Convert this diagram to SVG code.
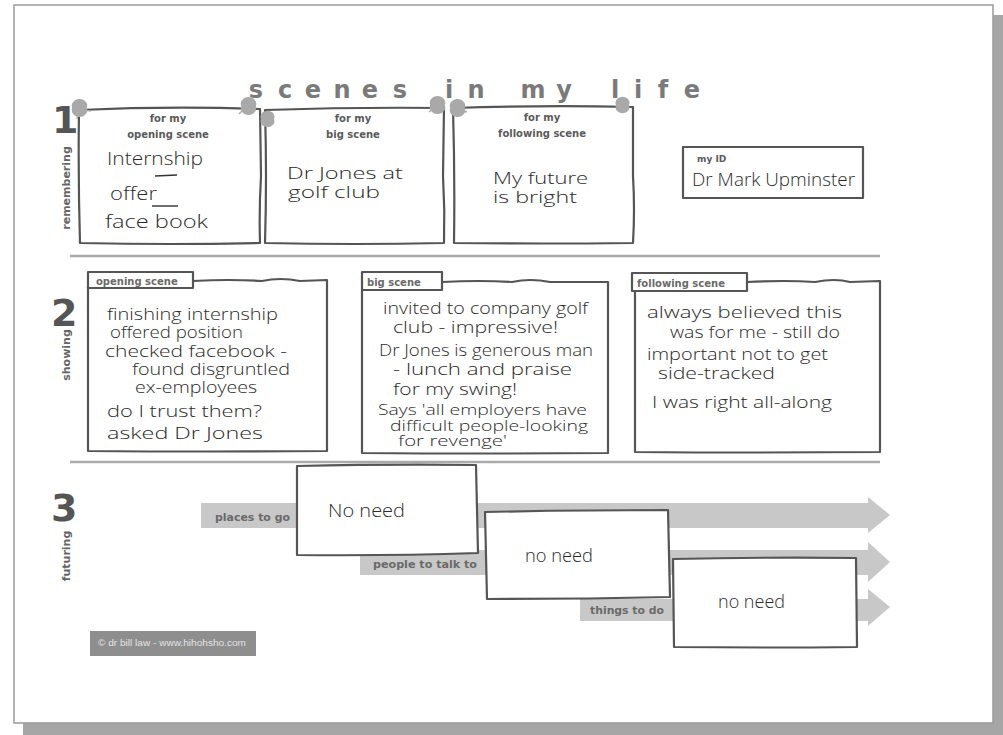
<svg xmlns="http://www.w3.org/2000/svg" width="1003" height="735" viewBox="0 0 1003 735">
<defs>
<style>
.hand{font-family:"Open Sans","DejaVu Sans",sans-serif;font-weight:300;fill:#2b2b2b;font-size:16px}
.sm{font-size:14px}
.lab{font-family:"DejaVu Sans","Liberation Sans",sans-serif;font-weight:bold;fill:#5a5a5a;font-size:10px}
.blab{font-family:"DejaVu Sans","Liberation Sans",sans-serif;font-weight:bold;fill:#6a6a6a;font-size:10px}
.box{fill:#fff;stroke:#555;stroke-width:2.2;stroke-linejoin:round}
.pin{fill:#a9a9a9}
.num{font-family:"DejaVu Sans","Liberation Sans",sans-serif;font-weight:bold;fill:#555;font-size:38px}
.side{font-family:"DejaVu Sans","Liberation Sans",sans-serif;font-weight:bold;fill:#666;font-size:11px}
.title{font-family:"DejaVu Sans","Liberation Sans",sans-serif;font-weight:bold;fill:#7a7a7a;font-size:24px}
.sep{stroke:#aaa;stroke-width:2.5;fill:none}
.band{fill:#c8c8c8}
.dash{stroke:#333;stroke-width:1.4}
</style>
</defs>
<!-- page -->
<rect x="23" y="15" width="980" height="720" fill="#a6a6a6"/>
<rect x="14" y="5" width="979" height="718" fill="#fff" stroke="#9a9a9a" stroke-width="1.5"/>

<!-- title -->
<g id="title">
<text class="title" text-anchor="middle" x="256 285 313 342 370 400" y="98">scenes</text>
<text class="title" text-anchor="middle" x="449 476" y="98">in</text>
<text class="title" text-anchor="middle" x="533 564" y="98">my</text>
<text class="title" text-anchor="middle" x="615 638 663 692" y="98">life</text>
</g>

<!-- row labels -->
<g id="row1-label">
<text class="num" x="52" y="133">1</text>
<text class="side" transform="translate(70,188) rotate(-90)" text-anchor="middle">remembering</text>
</g>
<g id="row2-label">
<text class="num" x="51" y="326">2</text>
<text class="side" transform="translate(70,355) rotate(-90)" text-anchor="middle">showing</text>
</g>
<g id="row3-label">
<text class="num" x="51" y="521">3</text>
<text class="side" transform="translate(70,556) rotate(-90)" text-anchor="middle">futuring</text>
</g>

<line class="sep" x1="70" y1="256" x2="880" y2="256"/>
<line class="sep" x1="70" y1="462" x2="880" y2="462"/>

<!-- row 1 -->
<g id="r1-opening">
<path class="box" d="M79,110 Q170,106 260,109 L261,176 Q259,210 260,243 Q170,245 80,243 Q78,176 79,110 Z"/>
<text class="lab" x="168" y="122" text-anchor="middle">for my</text>
<text class="lab" x="168" y="138" text-anchor="middle">opening scene</text>
<text class="hand" x="107" y="165" textLength="96" lengthAdjust="spacingAndGlyphs" style="font-size:18px">Internship</text>
<line class="dash" x1="155" y1="176" x2="177" y2="175"/>
<text class="hand" x="110" y="200" textLength="47" lengthAdjust="spacingAndGlyphs" style="font-size:18px">offer</text>
<line class="dash" x1="152" y1="206" x2="178" y2="206"/>
<text class="hand" x="105" y="228" textLength="103" lengthAdjust="spacingAndGlyphs" style="font-size:18px">face book</text>
<path class="pin" d="M73,108 a7,6 0 1,1 13,0 a7,6 0 1,1 -13,0 Z M85,110 l6,1 M78,113 l-1,6" stroke="#a9a9a9" stroke-width="1.5"/>
<path class="pin" d="M242,106 a7,6 0 1,1 13,0 a7,6 0 1,1 -13,0 Z M243,110 l-4,4" stroke="#a9a9a9" stroke-width="1.5"/>
</g>
<g id="r1-big">
<path class="box" d="M265,110 Q355,107 444,108 L443,176 Q445,210 444,243 Q355,245 265,243 Q267,176 265,110 Z"/>
<text class="lab" x="353" y="122" text-anchor="middle">for my</text>
<text class="lab" x="353" y="138" text-anchor="middle">big scene</text>
<text class="hand" x="287" y="179" textLength="116" lengthAdjust="spacingAndGlyphs" style="font-size:17px">Dr Jones at</text>
<text class="hand" x="288" y="198" textLength="92" lengthAdjust="spacingAndGlyphs" style="font-size:17px">golf club</text>
<path class="pin" d="M261,119 a7,6 0 1,1 13,0 a7,6 0 1,1 -13,0 Z" />
<path class="pin" d="M431,105 a7,6 0 1,1 13,0 a7,6 0 1,1 -13,0 Z M433,109 l-4,3" stroke="#a9a9a9" stroke-width="1.5"/>
</g>
<g id="r1-following">
<path class="box" d="M453,108 Q543,105 633,107 L633,176 Q635,210 633,243 Q543,244 454,243 Q455,176 453,108 Z"/>
<text class="lab" x="542" y="121" text-anchor="middle">for my</text>
<text class="lab" x="542" y="137" text-anchor="middle">following scene</text>
<text class="hand" x="493" y="184" textLength="95" lengthAdjust="spacingAndGlyphs" style="font-size:17px">My future</text>
<text class="hand" x="493" y="203" textLength="84" lengthAdjust="spacingAndGlyphs" style="font-size:17px">is bright</text>
<path class="pin" d="M451,108 a7,6 0 1,1 13,0 a7,6 0 1,1 -13,0 Z M462,110 l5,2" stroke="#a9a9a9" stroke-width="1.5"/>
<path class="pin" d="M616,105 a7,6 0 1,1 13,0 a7,6 0 1,1 -13,0 Z" />
</g>
<g id="my-id">
<rect class="box" x="683" y="147" width="180" height="51"/>
<text class="lab" x="697" y="162" style="font-size:9px">my ID</text>
<text class="hand" x="692" y="186" textLength="163" lengthAdjust="spacingAndGlyphs" style="font-size:18px">Dr Mark Upminster</text>
</g>

<!-- row 2 -->
<g id="r2-opening">
<path class="box" d="M193,281 Q230,279 262,281 Q280,277 300,281 L327,280 L327,451 Q210,452 88,451 L88,287"/>
<rect class="box" x="88" y="272" width="105" height="16"/>
<text class="blab" x="96" y="285">opening scene</text>
<text class="hand" x="107" y="320" textLength="171" lengthAdjust="spacingAndGlyphs">finishing internship</text>
<text class="hand" x="110" y="338" textLength="133" lengthAdjust="spacingAndGlyphs">offered position</text>
<text class="hand" x="105" y="357" textLength="182" lengthAdjust="spacingAndGlyphs">checked facebook -</text>
<text class="hand" x="132" y="375" textLength="158" lengthAdjust="spacingAndGlyphs">found disgruntled</text>
<text class="hand" x="135" y="393" textLength="122" lengthAdjust="spacingAndGlyphs">ex-employees</text>
<text class="hand" x="107" y="417" textLength="155" lengthAdjust="spacingAndGlyphs">do I trust them?</text>
<text class="hand" x="107" y="439" textLength="156" lengthAdjust="spacingAndGlyphs">asked Dr Jones</text>
</g>
<g id="r2-big">
<path class="box" d="M442,282 Q480,280 512,282 Q530,278 550,282 L608,282 L608,453 Q485,454 362,453 L362,290"/>
<rect class="box" x="362" y="272" width="80" height="18"/>
<text class="blab" x="367" y="286">big scene</text>
<text class="hand" x="383" y="314" textLength="205" lengthAdjust="spacingAndGlyphs">invited to company golf</text>
<text class="hand" x="393" y="333" textLength="165" lengthAdjust="spacingAndGlyphs">club - impressive!</text>
<text class="hand" x="379" y="356" textLength="214" lengthAdjust="spacingAndGlyphs">Dr Jones is generous man</text>
<text class="hand" x="393" y="375" textLength="179" lengthAdjust="spacingAndGlyphs">- lunch and praise</text>
<text class="hand" x="393" y="395" textLength="124" lengthAdjust="spacingAndGlyphs">for my swing!</text>
<text class="hand sm" x="378" y="415" textLength="209" lengthAdjust="spacingAndGlyphs">Says 'all employers have</text>
<text class="hand sm" x="390" y="431" textLength="198" lengthAdjust="spacingAndGlyphs">difficult people-looking</text>
<text class="hand sm" x="398" y="446" textLength="109" lengthAdjust="spacingAndGlyphs">for revenge'</text>
</g>
<g id="r2-following">
<path class="box" d="M747,282 Q785,280 815,282 Q835,278 850,282 L880,281 L880,452 Q757,453 635,452 L635,290"/>
<rect class="box" x="632" y="273" width="115" height="18"/>
<text class="blab" x="637" y="287">following scene</text>
<text class="hand" x="647" y="318" textLength="195" lengthAdjust="spacingAndGlyphs">always believed this</text>
<text class="hand" x="670" y="338" textLength="170" lengthAdjust="spacingAndGlyphs">was for me - still do</text>
<text class="hand" x="647" y="360" textLength="181" lengthAdjust="spacingAndGlyphs">important not to get</text>
<text class="hand" x="658" y="379" textLength="117" lengthAdjust="spacingAndGlyphs">side-tracked</text>
<text class="hand" x="652" y="408" textLength="180" lengthAdjust="spacingAndGlyphs">I was right all-along</text>
</g>

<!-- row 3 arrows -->
<g id="connectors">
<polygon class="band" points="201,503 868,503 868,497 890,515 868,533 868,528 201,528"/>
<polygon class="band" points="360,550 868,550 868,542 890,562 868,582 868,575 360,575"/>
<polygon class="band" points="580,599 868,599 868,589 890,607 868,626 868,621 580,621"/>
<text class="blab" x="215" y="521" textLength="75" lengthAdjust="spacingAndGlyphs">places to go</text>
<text class="blab" x="373" y="568" textLength="104" lengthAdjust="spacingAndGlyphs">people to talk to</text>
<text class="blab" x="590" y="614" textLength="74" lengthAdjust="spacingAndGlyphs">things to do</text>
</g>
<g id="f-places">
<path class="box" d="M297,466 Q390,464 476,465 L478,553 Q390,556 297,555 Z"/>
<text class="hand" x="328" y="517" textLength="77" lengthAdjust="spacingAndGlyphs" style="font-size:18px">No need</text>
</g>
<g id="f-people">
<path class="box" d="M485,512 Q580,510 668,510 L670,597 Q580,599 487,599 Z"/>
<text class="hand" x="525" y="562" textLength="68" lengthAdjust="spacingAndGlyphs" style="font-size:18px">no need</text>
</g>
<g id="f-things">
<path class="box" d="M673,559 Q765,557 856,558 L857,647 Q765,648 674,647 Z"/>
<text class="hand" x="718" y="608" textLength="67" lengthAdjust="spacingAndGlyphs" style="font-size:18px">no need</text>
</g>

<g id="credit">
<rect x="90" y="631" width="166" height="25" fill="#8e8e8e"/>
<text x="98" y="646" font-family="Liberation Sans, sans-serif" font-size="8.5" fill="#e4e4e4" textLength="148" lengthAdjust="spacingAndGlyphs">© dr bill law - www.hihohsho.com</text>
</g>
</svg>
